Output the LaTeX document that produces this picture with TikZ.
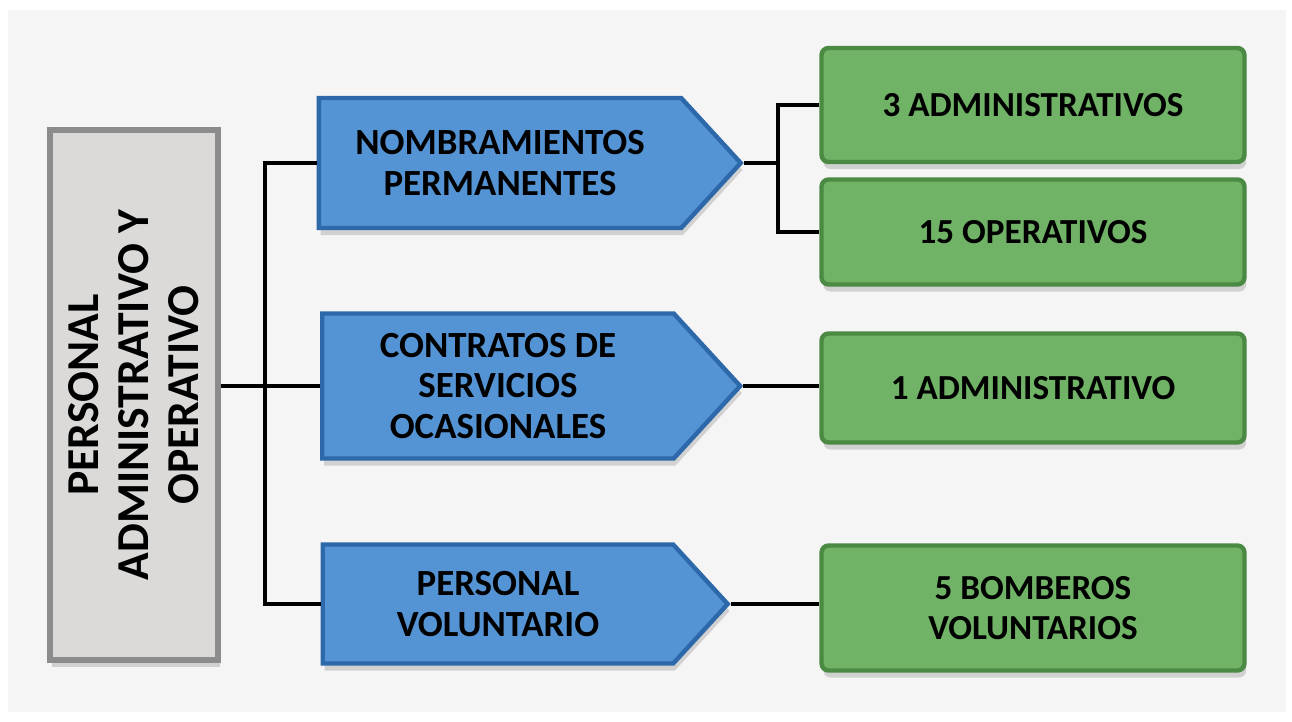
\documentclass[tikz,border=0pt]{standalone}
\usepackage{fontspec}
\setmainfont{Carlito}
\usetikzlibrary{shapes.symbols,shadows}

\definecolor{fondo}{RGB}{245,245,245}
\definecolor{azul}{RGB}{84,148,212}
\definecolor{azuloscuro}{RGB}{44,104,170}
\definecolor{verde}{RGB}{112,178,102}
\definecolor{verdeoscuro}{RGB}{74,138,66}
\definecolor{gris}{RGB}{220,218,216}
\definecolor{grisoscuro}{RGB}{140,140,140}

\begin{document}
\begin{tikzpicture}[x=0.02cm,y=-0.02cm,
  conector/.style={line width=2pt},
  sombra/.style={drop shadow={opacity=0.3,shadow xshift=1pt,shadow yshift=-4pt}},
  flecha/.style={signal, signal to=east, signal pointer angle=95, fill=azul,
    draw=azuloscuro, line width=2.5pt, inner sep=0pt, align=center, sombra,
    font=\fontsize{21}{23}\selectfont\bfseries},
  cajaverde/.style={rectangle, rounded corners=4pt, fill=verde, draw=verdeoscuro,
    line width=2.5pt, minimum width=8.46cm, inner sep=0pt, align=center, sombra,
    font=\fontsize{20}{23}\selectfont\bfseries},
  cajagris/.style={rectangle, fill=gris, draw=grisoscuro, line width=3pt,
    inner sep=0pt, align=center, sombra,
    font=\fontsize{26}{28.5}\selectfont\bfseries}]

\useasboundingbox (0,0) rectangle (1292,722);
\fill[white] (0,0) rectangle (1292,722);
\fill[fondo] (8,10) rectangle (1286,712);

% left box
\node[cajagris, rotate=90, minimum width=10.6cm, minimum height=3.36cm]
  (personal) at (134,395) {PERSONAL\\ADMINISTRATIVO Y\\OPERATIVO};

% middle arrows
\node[flecha, minimum width=8.44cm, minimum height=2.6cm]
  (nombramientos) at (500,163) {NOMBRAMIENTOS\\PERMANENTES};
\node[flecha, minimum width=8.36cm, minimum height=2.9cm]
  (contratos) at (498,386) {CONTRATOS DE\\SERVICIOS\\OCASIONALES};
\node[flecha, minimum width=8.1cm, minimum height=2.38cm]
  (voluntario) at (498,604) {PERSONAL\\VOLUNTARIO};

% right boxes
\node[cajaverde, minimum height=2.28cm] (admin) at (1033,105) {3 ADMINISTRATIVOS};
\node[cajaverde, minimum height=2.1cm] (operativos) at (1033,232) {15 OPERATIVOS};
\node[cajaverde, minimum height=2.18cm] (adminuno) at (1033,388) {1 ADMINISTRATIVO};
\node[cajaverde, minimum height=2.5cm] (bomberos) at (1033,608) {5 BOMBEROS\\VOLUNTARIOS};

% connectors
\coordinate (tronco) at (265,386);
\coordinate (rama) at (778,163);
\draw[conector] (tronco -| personal.south) -- (tronco);
\foreach \n in {nombramientos,contratos,voluntario}
  \draw[conector] (tronco) |- (\n.west);
\draw[conector] (nombramientos.east) -- (rama);
\foreach \n in {admin,operativos}
  \draw[conector] (rama) |- (\n.west);
\draw[conector] (contratos.east) -- (contratos.east -| adminuno.west);
\draw[conector] (voluntario.east) -- (voluntario.east -| bomberos.west);
\end{tikzpicture}
\end{document}
